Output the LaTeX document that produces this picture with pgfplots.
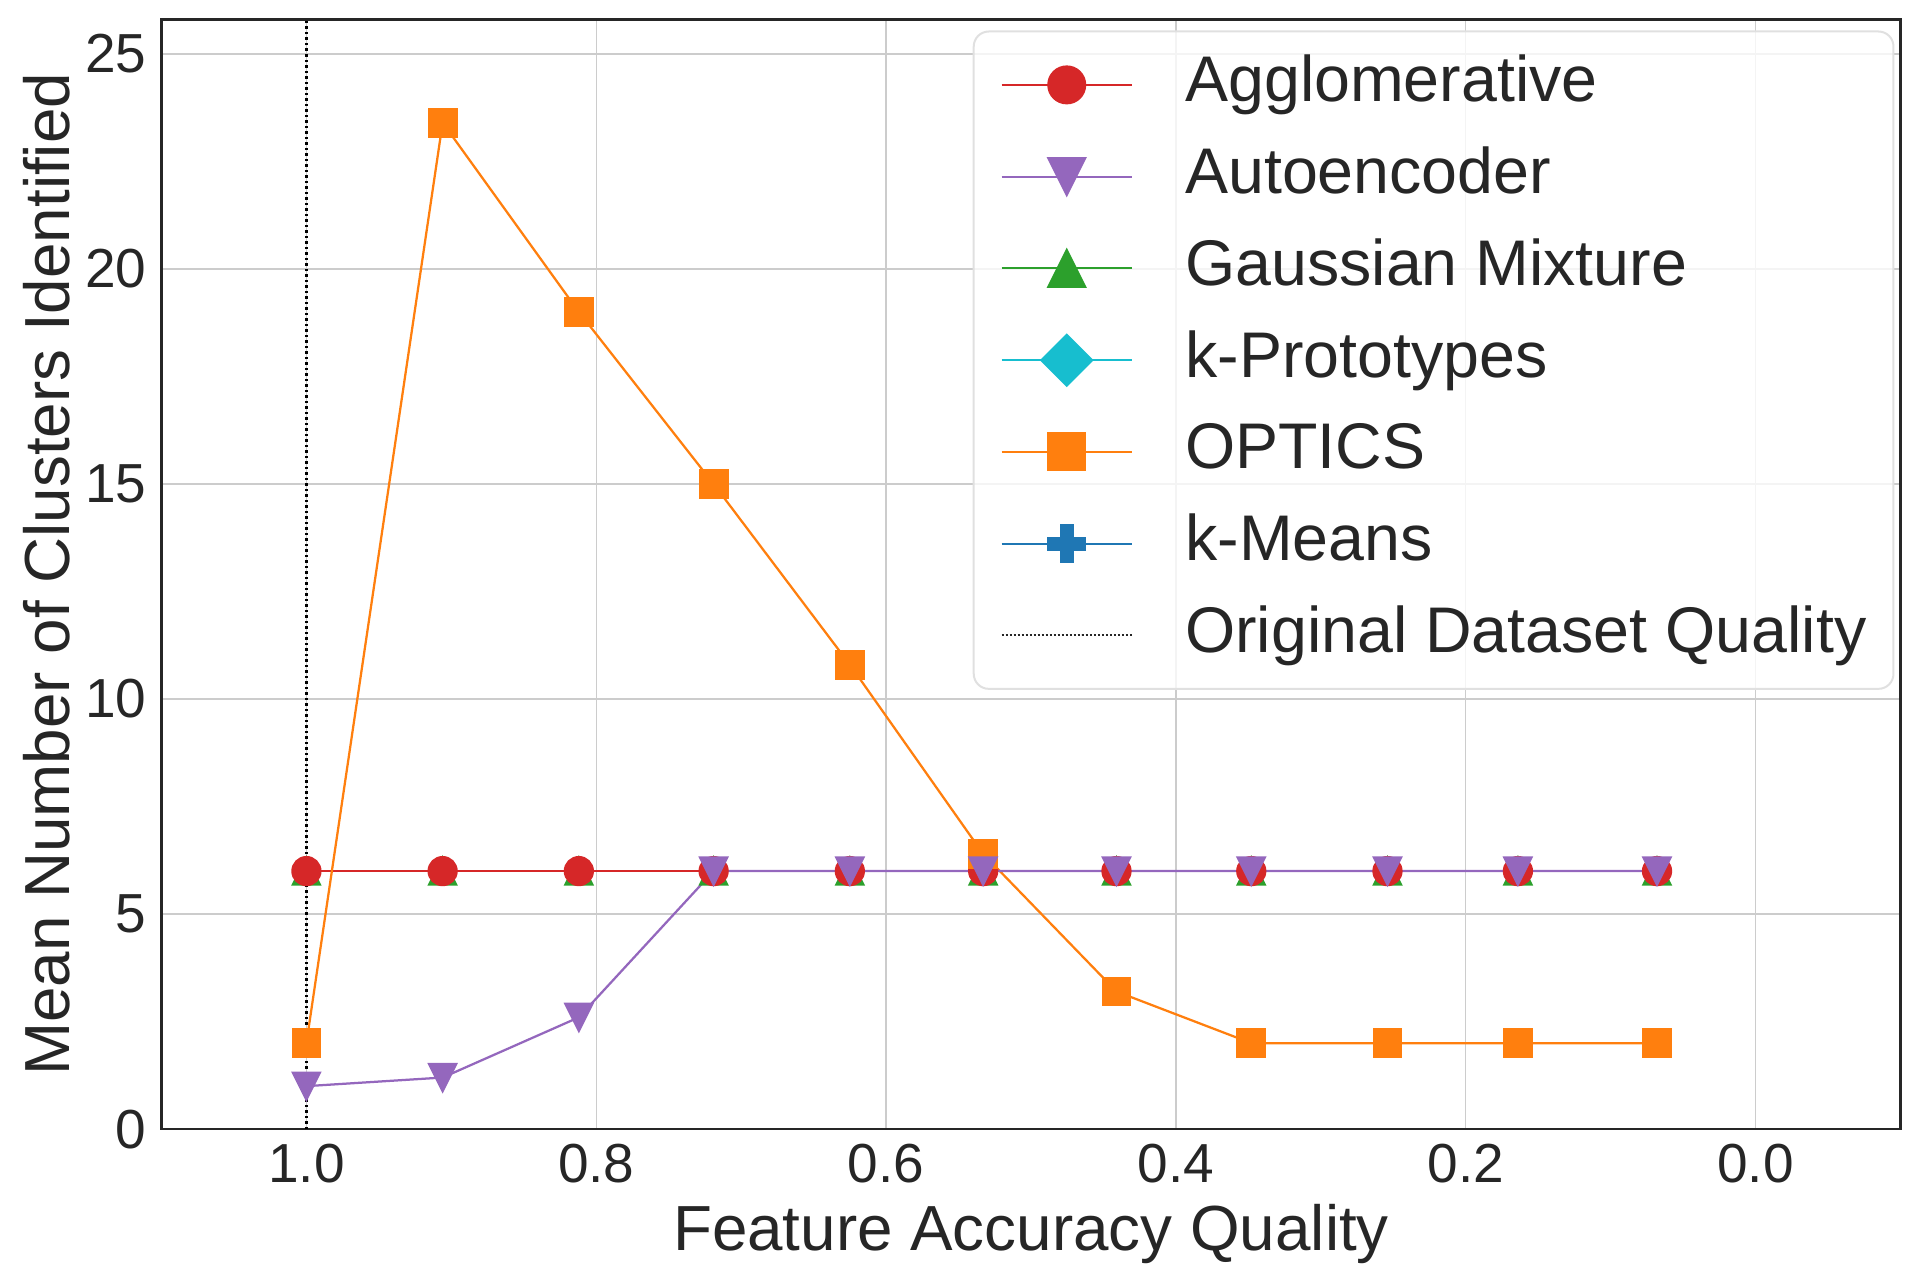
\documentclass[border=0pt]{standalone}
\usepackage{fontspec}
\setmainfont{Liberation Sans}
\usepackage{pgfplots}
\pgfplotsset{compat=1.18}

\definecolor{cRed}{HTML}{D62728}
\definecolor{cPurple}{HTML}{9467BD}
\definecolor{cGreen}{HTML}{2CA02C}
\definecolor{cCyan}{HTML}{17BECF}
\definecolor{cOrange}{HTML}{FF7F0E}
\definecolor{cBlue}{HTML}{1F77B4}
\definecolor{cText}{HTML}{262626}

% matplotlib-like markers
\pgfdeclareplotmark{mtriup}{%
  \pgfpathmoveto{\pgfpoint{0pt}{\pgfplotmarksize}}%
  \pgfpathlineto{\pgfpoint{-\pgfplotmarksize}{-\pgfplotmarksize}}%
  \pgfpathlineto{\pgfpoint{\pgfplotmarksize}{-\pgfplotmarksize}}%
  \pgfpathclose\pgfusepathqfillstroke}
\pgfdeclareplotmark{mtridown}{%
  \pgfpathmoveto{\pgfpoint{0pt}{-\pgfplotmarksize}}%
  \pgfpathlineto{\pgfpoint{-\pgfplotmarksize}{\pgfplotmarksize}}%
  \pgfpathlineto{\pgfpoint{\pgfplotmarksize}{\pgfplotmarksize}}%
  \pgfpathclose\pgfusepathqfillstroke}
\pgfdeclareplotmark{mdiamond}{%
  \pgfpathmoveto{\pgfpoint{0pt}{\pgfplotmarksize}}%
  \pgfpathlineto{\pgfpoint{\pgfplotmarksize}{0pt}}%
  \pgfpathlineto{\pgfpoint{0pt}{-\pgfplotmarksize}}%
  \pgfpathlineto{\pgfpoint{-\pgfplotmarksize}{0pt}}%
  \pgfpathclose\pgfusepathqfillstroke}
\pgfdeclareplotmark{mplus}{%
  \pgfpathmoveto{\pgfpoint{-\pgfplotmarksize/3}{-\pgfplotmarksize}}%
  \pgfpathlineto{\pgfpoint{\pgfplotmarksize/3}{-\pgfplotmarksize}}%
  \pgfpathlineto{\pgfpoint{\pgfplotmarksize/3}{-\pgfplotmarksize/3}}%
  \pgfpathlineto{\pgfpoint{\pgfplotmarksize}{-\pgfplotmarksize/3}}%
  \pgfpathlineto{\pgfpoint{\pgfplotmarksize}{\pgfplotmarksize/3}}%
  \pgfpathlineto{\pgfpoint{\pgfplotmarksize/3}{\pgfplotmarksize/3}}%
  \pgfpathlineto{\pgfpoint{\pgfplotmarksize/3}{\pgfplotmarksize}}%
  \pgfpathlineto{\pgfpoint{-\pgfplotmarksize/3}{\pgfplotmarksize}}%
  \pgfpathlineto{\pgfpoint{-\pgfplotmarksize/3}{\pgfplotmarksize/3}}%
  \pgfpathlineto{\pgfpoint{-\pgfplotmarksize}{\pgfplotmarksize/3}}%
  \pgfpathlineto{\pgfpoint{-\pgfplotmarksize}{-\pgfplotmarksize/3}}%
  \pgfpathlineto{\pgfpoint{-\pgfplotmarksize/3}{-\pgfplotmarksize/3}}%
  \pgfpathclose\pgfusepathqfillstroke}

% x = feature accuracy quality
% (k-Prototypes shows no marks in the chart, only a legend entry)
\pgfplotstableread{
x      agg  auto  gauss  optics  kmeans
1.000  6    1.0   6      2.0     6
0.906  6    1.2   6      23.4    6
0.812  6    2.6   6      19.0    6
0.719  6    6     6      15.0    6
0.625  6    6     6      10.8    6
0.533  6    6     6      6.4     6
0.441  6    6     6      3.2     6
0.348  6    6     6      2.0     6
0.254  6    6     6      2.0     6
0.164  6    6     6      2.0     6
0.068  6    6     6      2.0     6
}\clusters

\begin{document}
\begin{tikzpicture}
\begin{axis}[
    name=ax,
    scale only axis,
    width=695.5pt, height=443.8pt,
    xmin=-0.1, xmax=1.1, x dir=reverse,
    ymin=0, ymax=25.8,
    xtick={0,0.2,0.4,0.6,0.8,1.0},
    ytick={0,5,10,15,20,25},
    xticklabel style={/pgf/number format/fixed, /pgf/number format/fixed zerofill, /pgf/number format/precision=1},
    /pgf/number format/assume math mode=true,
    ticklabel style={font=\fontsize{22}{26}\selectfont, inner sep=0pt, text=cText},
    xticklabel style={anchor=north, yshift=-5.6pt},
    yticklabel style={anchor=east, xshift=-5.8pt},
    major tick length=0pt,
    grid=major,
    major grid style={color=black!20, line width=0.5pt},
    axis line style={cText, line width=1pt},
    xlabel={Feature Accuracy Quality},
    ylabel={Mean Number of Clusters Identified},
    label style={font=\fontsize{25.5}{30}\selectfont, inner sep=0pt, text=cText},
    xlabel style={at={(axis description cs:0.5,-0.109)}, anchor=base},
    ylabel style={at={(axis description cs:-0.052,0.5)}, anchor=south},
    legend cell align=left,
    legend image code/.code={%
        \draw[mark repeat=2, mark phase=2, fill opacity=1, draw opacity=1, #1]
            plot coordinates {(0pt,0pt) (26pt,0pt) (52pt,0pt)};},
    legend style={
        at={(rel axis cs:1,1)}, anchor=north east,
        xshift=-2.4pt, yshift=-4.4pt,
        draw=black!12, line width=0.8pt, rounded corners=6pt,
        fill=white, fill opacity=0.8, text opacity=1, text=cText,
        inner xsep=10.8pt, inner ysep=9.6pt,
        row sep=13.2pt, column sep=21pt,
        font=\fontsize{25.8}{30}\selectfont,
        nodes={inner sep=0pt, text height=18.5pt, text depth=5pt},
    },
]
% legend entries, in the reference's order
\addlegendimage{cRed, line width=0.8pt, mark=*, mark size=7.4pt}
\addlegendentry{Agglomerative}
\addlegendimage{cPurple, line width=0.8pt, mark=mtridown, mark size=7.4pt}
\addlegendentry{Autoencoder}
\addlegendimage{cGreen, line width=0.8pt, mark=mtriup, mark size=7.4pt}
\addlegendentry{Gaussian Mixture}
\addlegendimage{cCyan, line width=0.8pt, mark=mdiamond, mark size=10.2pt}
\addlegendentry{k-Prototypes}
\addlegendimage{cOrange, line width=0.8pt, mark=square*, mark size=7.4pt}
\addlegendentry{OPTICS}
\addlegendimage{cBlue, line width=0.8pt, mark=mplus, mark size=7.4pt}
\addlegendentry{k-Means}
\addlegendimage{cText, line width=0.8pt, dash pattern=on 0.8pt off 0.8pt}
\addlegendentry{Original Dataset Quality}

% reference line, drawn behind the series
\addplot[forget plot, black, line width=0.9pt, dash pattern=on 1pt off 1.2pt] coordinates {(1,0) (1,25.8)};
% series
\addplot[forget plot, cGreen, line width=0.9pt, mark=mtriup, mark size=5.4pt] table[x=x, y=gauss] {\clusters};
\addplot[forget plot, cBlue, line width=0.9pt, mark=mplus, mark size=5pt] table[x=x, y=kmeans] {\clusters};
\addplot[forget plot, cRed, line width=0.9pt, mark=*, mark size=5.6pt] table[x=x, y=agg] {\clusters};
\addplot[forget plot, cOrange, line width=0.9pt, mark=square*, mark size=5.5pt] table[x=x, y=optics] {\clusters};
\addplot[forget plot, cPurple, line width=0.9pt, mark=mtridown, mark size=5.4pt] table[x=x, y=auto] {\clusters};
\end{axis}
\pgfresetboundingbox
\useasboundingbox ([xshift=-64.6pt,yshift=-60.4pt]ax.south west) rectangle ([xshift=7.8pt,yshift=7.8pt]ax.north east);
\end{tikzpicture}
\end{document}
